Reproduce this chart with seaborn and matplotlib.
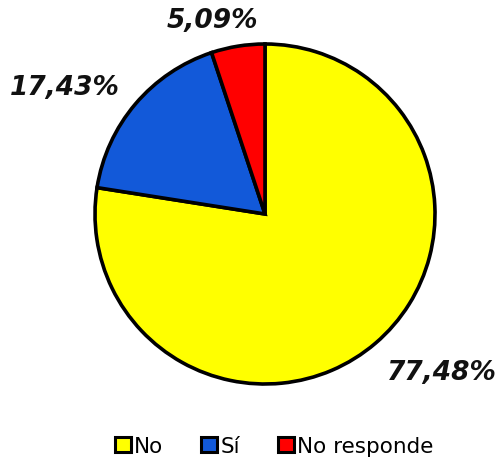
import matplotlib
matplotlib.use("Agg")
import matplotlib.pyplot as plt
from matplotlib.patches import Patch
import seaborn as sns

# Survey answers and their shares (%)
categories = ["No", "Sí", "No responde"]
values = [77.48, 17.43, 5.09]
value_labels = ["77,48%", "17,43%", "5,09%"]
colors = ["#FFFF00", "#1259D9", "#FF0000"]

# Label anchor points (in units of the pie radius)
label_pos = [(1.04, -0.93), (-1.18, 0.75), (-0.31, 1.14)]

sns.set_theme(style="white")
plt.rcParams["font.family"] = ["DejaVu Sans"]
plt.rcParams["text.color"] = "black"

fig = plt.figure(figsize=(5.01, 4.64), dpi=100)
ax = fig.add_axes([95 / 501, (464 - 385) / 464, 340 / 501, 340 / 464])

ax.pie(values, colors=colors, startangle=90, counterclock=False, radius=1,
       wedgeprops=dict(edgecolor="black", linewidth=2.6))
ax.set_xlim(-1, 1)
ax.set_ylim(-1, 1)
ax.set_aspect("equal")
ax.axis("off")

for txt, (x, y) in zip(value_labels, label_pos):
    ax.text(x, y, txt, ha="center", va="center", fontsize=19,
            fontweight="bold", fontstyle="italic", color="#111111",
            clip_on=False)

handles = [Patch(facecolor=c, edgecolor="black", linewidth=2.2) for c in colors]
leg = fig.legend(handles, categories, loc="center",
                 bbox_to_anchor=(0.547, 1 - 447 / 464),
                 ncol=3, frameon=False, fontsize=15.5, handlelength=0.75,
                 handleheight=0.75, handletextpad=0.15, columnspacing=1.75,
                 borderaxespad=0)
for t in leg.get_texts():
    t.set_color("black")

fig.savefig("out.png", dpi=100)
